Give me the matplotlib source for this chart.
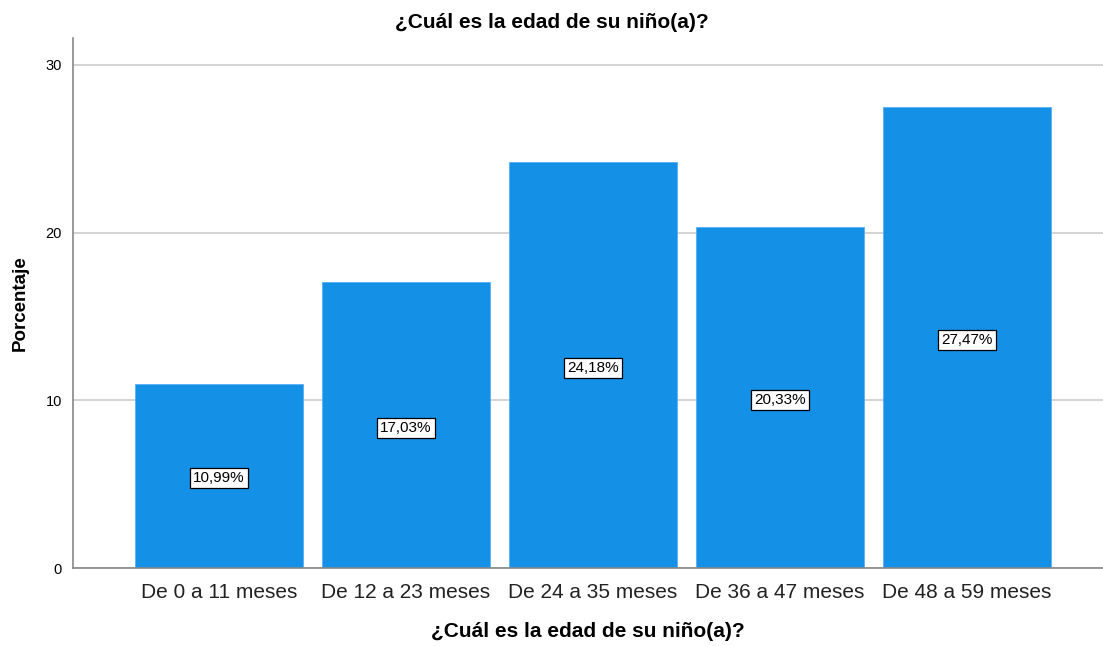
import matplotlib as mpl
import matplotlib.pyplot as plt

categories = ['De 0 a 11 meses', 'De 12 a 23 meses', 'De 24 a 35 meses',
              'De 36 a 47 meses', 'De 48 a 59 meses']
percentages = [10.99, 17.03, 24.18, 20.33, 27.47]
yticks = [0, 10, 20, 30]
title = '¿Cuál es la edad de su niño(a)?'

mpl.rcParams['font.family'] = ['Liberation Sans', 'DejaVu Sans']

fig = plt.figure(figsize=(11.03, 6.46), dpi=100)
ax = fig.add_axes([73/1103, 1 - 568/646, 1 - 73/1103, (568 - 38)/646])

x = list(range(len(categories)))
ax.bar(x, percentages, width=0.9, color='#1490e6', edgecolor='#5aaef0',
       linewidth=0.6, zorder=2)

for xi, v in zip(x, percentages):
    ax.text(xi, v / 2 - 0.15, f'{v:.2f}%'.replace('.', ','), ha='center',
            va='center', fontsize=11, zorder=3,
            bbox=dict(boxstyle='square,pad=0.2', facecolor='white',
                      edgecolor='black', linewidth=0.9))

ax.set_xlim(-0.78, 4.727)
ax.set_ylim(0, 31.6)
ax.set_yticks(yticks)
ax.set_xticks(x)
ax.set_xticklabels(categories, fontsize=15, color='#222222')
ax.tick_params(axis='y', labelsize=10.5, length=0, pad=8)
ax.tick_params(axis='x', length=0, pad=11)
ax.grid(axis='y', color='#cccccc', linewidth=1.2, zorder=0)
ax.set_axisbelow(True)

for s in ['top', 'right']:
    ax.spines[s].set_visible(False)
ax.spines['left'].set_color('#888888')
ax.spines['bottom'].set_color('#888888')
ax.spines['left'].set_linewidth(1.2)
ax.spines['bottom'].set_linewidth(1.2)

ax.set_ylabel('Porcentaje', fontsize=13.5, fontweight='bold', labelpad=12)
ax.set_xlabel(title, fontsize=15, fontweight='bold', labelpad=14)
fig.text(0.5, 1 - 22/646, title, ha='center', va='center', fontsize=15,
         fontweight='bold')

plt.savefig('out.png', dpi=100)
